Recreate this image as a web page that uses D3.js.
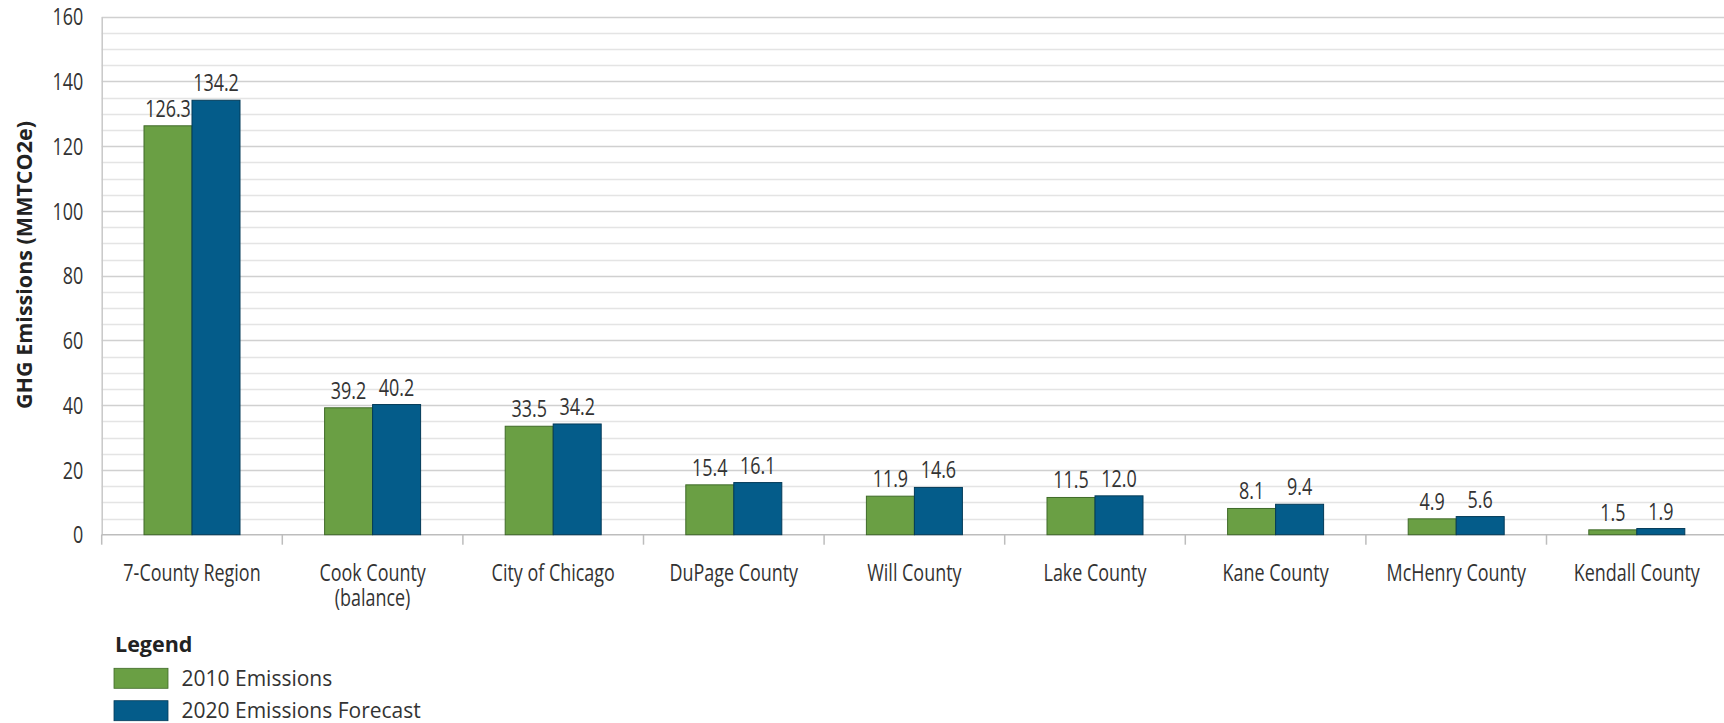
<!DOCTYPE html>
<html><head><meta charset="utf-8">
<script src="https://cdn.jsdelivr.net/npm/d3@7"></script>
<style>
html,body{margin:0;padding:0;background:#fff;}
svg{display:block;}
.cond{font-family:"Open Sans",sans-serif;}
</style></head>
<body>
<svg id="chart" width="1724" height="723"></svg>
<script>
const categories = ["7-County Region","Cook County\n(balance)","City of Chicago","DuPage County","Will County","Lake County","Kane County","McHenry County","Kendall County"];
const emissions2010 = [126.3,39.2,33.5,15.4,11.9,11.5,8.1,4.9,1.5];
const forecast2020 = [134.2,40.2,34.2,16.1,14.6,12.0,9.4,5.6,1.9];
const seriesNames = ["2010 Emissions","2020 Emissions Forecast"];
const yTicks = [0,20,40,60,80,100,120,140,160];
const yTitle = "GHG Emissions (MMTCO2e)";

const colors = ["#6a9f44","#045c8a"];
const strokes = ["#3f6a28","#033a58"];
const SX = 0.78;
const svg = d3.select("#chart");

function condense(sel, sx){
  sel.each(function(){
    const t = d3.select(this);
    const x = +t.attr("x") || 0, y = +t.attr("y") || 0;
    t.attr("transform", `translate(${x},${y}) scale(${sx},1) translate(${-x},${-y})`);
  });
}

const left = 101.7, band = 180.6;
const x = d3.scaleBand().domain(d3.range(categories.length)).range([left, left + band*categories.length]).padding(0);
const y = d3.scaleLinear().domain([0,160]).range([534.7, 16.7]);
const xs = d3.scaleBand().domain([0,1]).range([0, 96]);

// gridlines
const minor = d3.range(5,160,5).filter(v => v % 20 !== 0);
svg.append("g").selectAll("line").data(minor).join("line")
  .attr("x1", left).attr("x2", 1724)
  .attr("y1", d => Math.round(y(d))+0.5).attr("y2", d => Math.round(y(d))+0.5)
  .attr("stroke","#e4e4e4").attr("stroke-width",1.5);
svg.append("g").selectAll("line").data(yTicks.filter(v=>v>0)).join("line")
  .attr("x1", left).attr("x2", 1724)
  .attr("y1", d => Math.round(y(d))+0.5).attr("y2", d => Math.round(y(d))+0.5)
  .attr("stroke","#d0d0d0").attr("stroke-width",1.5);

// y axis
const yAxis = svg.append("g").attr("transform",`translate(${left},0)`)
  .call(d3.axisLeft(y).tickValues(yTicks).tickSize(0).tickPadding(18.5));
yAxis.select(".domain").attr("stroke","#c8c8c8").attr("stroke-width",1.5);
yAxis.selectAll("text").attr("class","cond").attr("font-size",23).attr("fill","#333").attr("dy","0.36em");
condense(yAxis.selectAll("text"), SX);

// x axis
const xAxis = svg.append("g").attr("transform",`translate(0,${y(0)})`);
xAxis.append("line").attr("x1",left).attr("x2",1724).attr("y1",0).attr("y2",0).attr("stroke","#bdbdbd").attr("stroke-width",1.5);
xAxis.selectAll("line.tick").data(d3.range(categories.length)).join("line").attr("class","tick")
  .attr("x1", d => x(d)).attr("x2", d => x(d)).attr("y1",0).attr("y2",10)
  .attr("stroke","#bdbdbd").attr("stroke-width",1.5);

const labelLines = [];
categories.forEach((c,i) => c.split("\n").forEach((l,j) => labelLines.push({i, j, text:l})));
const labels = svg.append("g").selectAll("text").data(labelLines).join("text")
  .attr("class","cond").attr("font-size",23).attr("fill","#333").attr("text-anchor","middle")
  .attr("x",d=> x(d.i)+band/2).attr("y",d=> 581.5 + d.j*25).text(d=>d.text);
condense(labels, SX);

// bars
const series = [emissions2010, forecast2020];
series.forEach((vals, s) => {
  const g = svg.append("g");
  g.selectAll("rect").data(vals).join("rect")
    .attr("x",(d,i)=> x(i)+band/2-48+xs(s)).attr("width",xs.bandwidth())
    .attr("y",d=>y(d)).attr("height",d=>y(0)-y(d))
    .attr("fill",colors[s]).attr("stroke",strokes[s]).attr("stroke-width",1);
  const t = g.selectAll("text").data(vals).join("text")
    .attr("class","cond").attr("font-size",23).attr("fill","#333").attr("text-anchor","middle")
    .attr("x",(d,i)=> x(i)+band/2-48+xs(s)+xs.bandwidth()/2).attr("y",d=>y(d)-9)
    .text(d=>d.toFixed(1));
  condense(t, SX);
});

// y title
svg.append("text").attr("transform","translate(32,265) rotate(-90)")
  .attr("text-anchor","middle").attr("font-family","'Open Sans',sans-serif").attr("font-weight","bold")
  .attr("font-size",21.5).attr("fill","#222").text(yTitle);

// legend
const lg = svg.append("g");
lg.append("text").attr("x",115).attr("y",651.5).attr("font-family","'Open Sans',sans-serif")
  .attr("font-weight","bold").attr("font-size",21.5).attr("fill","#222").text("Legend");
seriesNames.forEach((n,i)=>{
  lg.append("rect").attr("x",114).attr("y",668.3+i*32.4).attr("width",54).attr("height",20)
    .attr("fill",colors[i]).attr("stroke",strokes[i]).attr("stroke-width",0.8);
  lg.append("text").attr("x",181.5).attr("y",686.3+i*31.6).attr("font-family","'Open Sans',sans-serif")
    .attr("font-size",21).attr("fill","#333").text(n);
});
</script>
</body></html>
